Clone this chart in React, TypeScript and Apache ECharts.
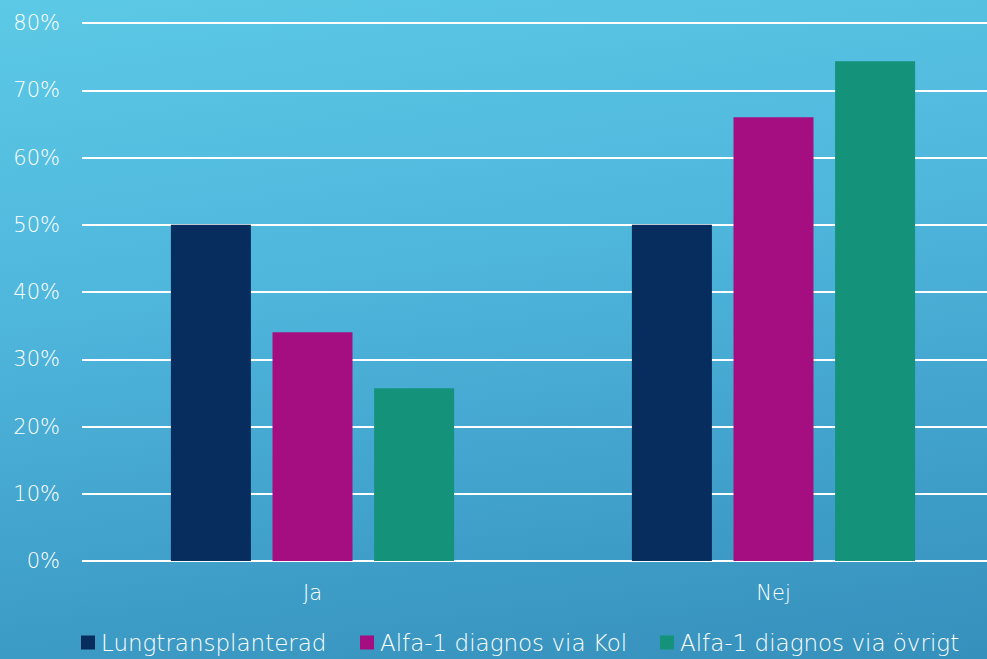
import React, { useEffect, useRef } from "react";
import * as echarts from "echarts";

const categories = ["Ja", "Nej"];
const lungtransplanterad = [50, 50];
const viaKol = [34, 66];
const viaOvrigt = [25.7, 74.3];
const seriesNames = [
  "Lungtransplanterad",
  "Alfa-1 diagnos via Kol",
  "Alfa-1 diagnos via övrigt",
];
const colors = ["#062d5e", "#a50e80", "#14937a"];

const FONT = "'DejaVu Sans', sans-serif";
// left edge of each legend entry
const legendLeft = [76, 355, 655];

export default function App() {
  const ref = useRef<HTMLDivElement>(null);

  useEffect(() => {
    if (!ref.current) return;
    const chart = echarts.init(ref.current, undefined, { renderer: "svg" });
    const values = [lungtransplanterad, viaKol, viaOvrigt];
    chart.setOption({
      animation: false,
      backgroundColor: "transparent",
      textStyle: { fontFamily: FONT },
      grid: { left: 82, right: 6, top: 23, bottom: 98, containLabel: false },
      legend: seriesNames.map((name, i) => ({
        top: 626,
        left: legendLeft[i],
        itemWidth: 14,
        itemHeight: 14,
        icon: "rect",
        textStyle: {
          color: "#ffffff",
          fontSize: 23,
          fontWeight: 200,
          fontFamily: FONT,
          padding: [0, 0, 0, 1],
        },
        data: [name],
      })),
      xAxis: {
        type: "category",
        data: categories,
        axisLine: { show: false },
        axisTick: { show: false },
        axisLabel: { color: "#ffffff", fontSize: 21, fontWeight: 200, margin: 21, fontFamily: FONT },
      },
      yAxis: {
        type: "value",
        min: 0,
        max: 80,
        interval: 10,
        axisLine: { show: false },
        axisTick: { show: false },
        axisLabel: {
          color: "#ffffff",
          fontSize: 21,
          fontWeight: 200,
          margin: 22,
          fontFamily: FONT,
          formatter: (v: number) => `${v}%`,
        },
        splitLine: { lineStyle: { color: "#ffffff", width: 2 } },
      },
      series: seriesNames.map((name, i) => ({
        name,
        type: "bar",
        data: values[i],
        barWidth: 80,
        barGap: "27%",
        itemStyle: { color: colors[i] },
      })),
    });
    return () => chart.dispose();
  }, []);

  return (
    <div
      style={{
        position: "fixed",
        left: 0,
        top: 0,
        width: 987,
        height: 659,
        overflow: "hidden",
        background: "linear-gradient(172deg, #5cc9e6 0%, #4fb6dc 40%, #3d9cc6 80%, #3690bc 100%)",
      }}
    >
      <div ref={ref} style={{ width: 1010, height: 659 }} />
    </div>
  );
}
